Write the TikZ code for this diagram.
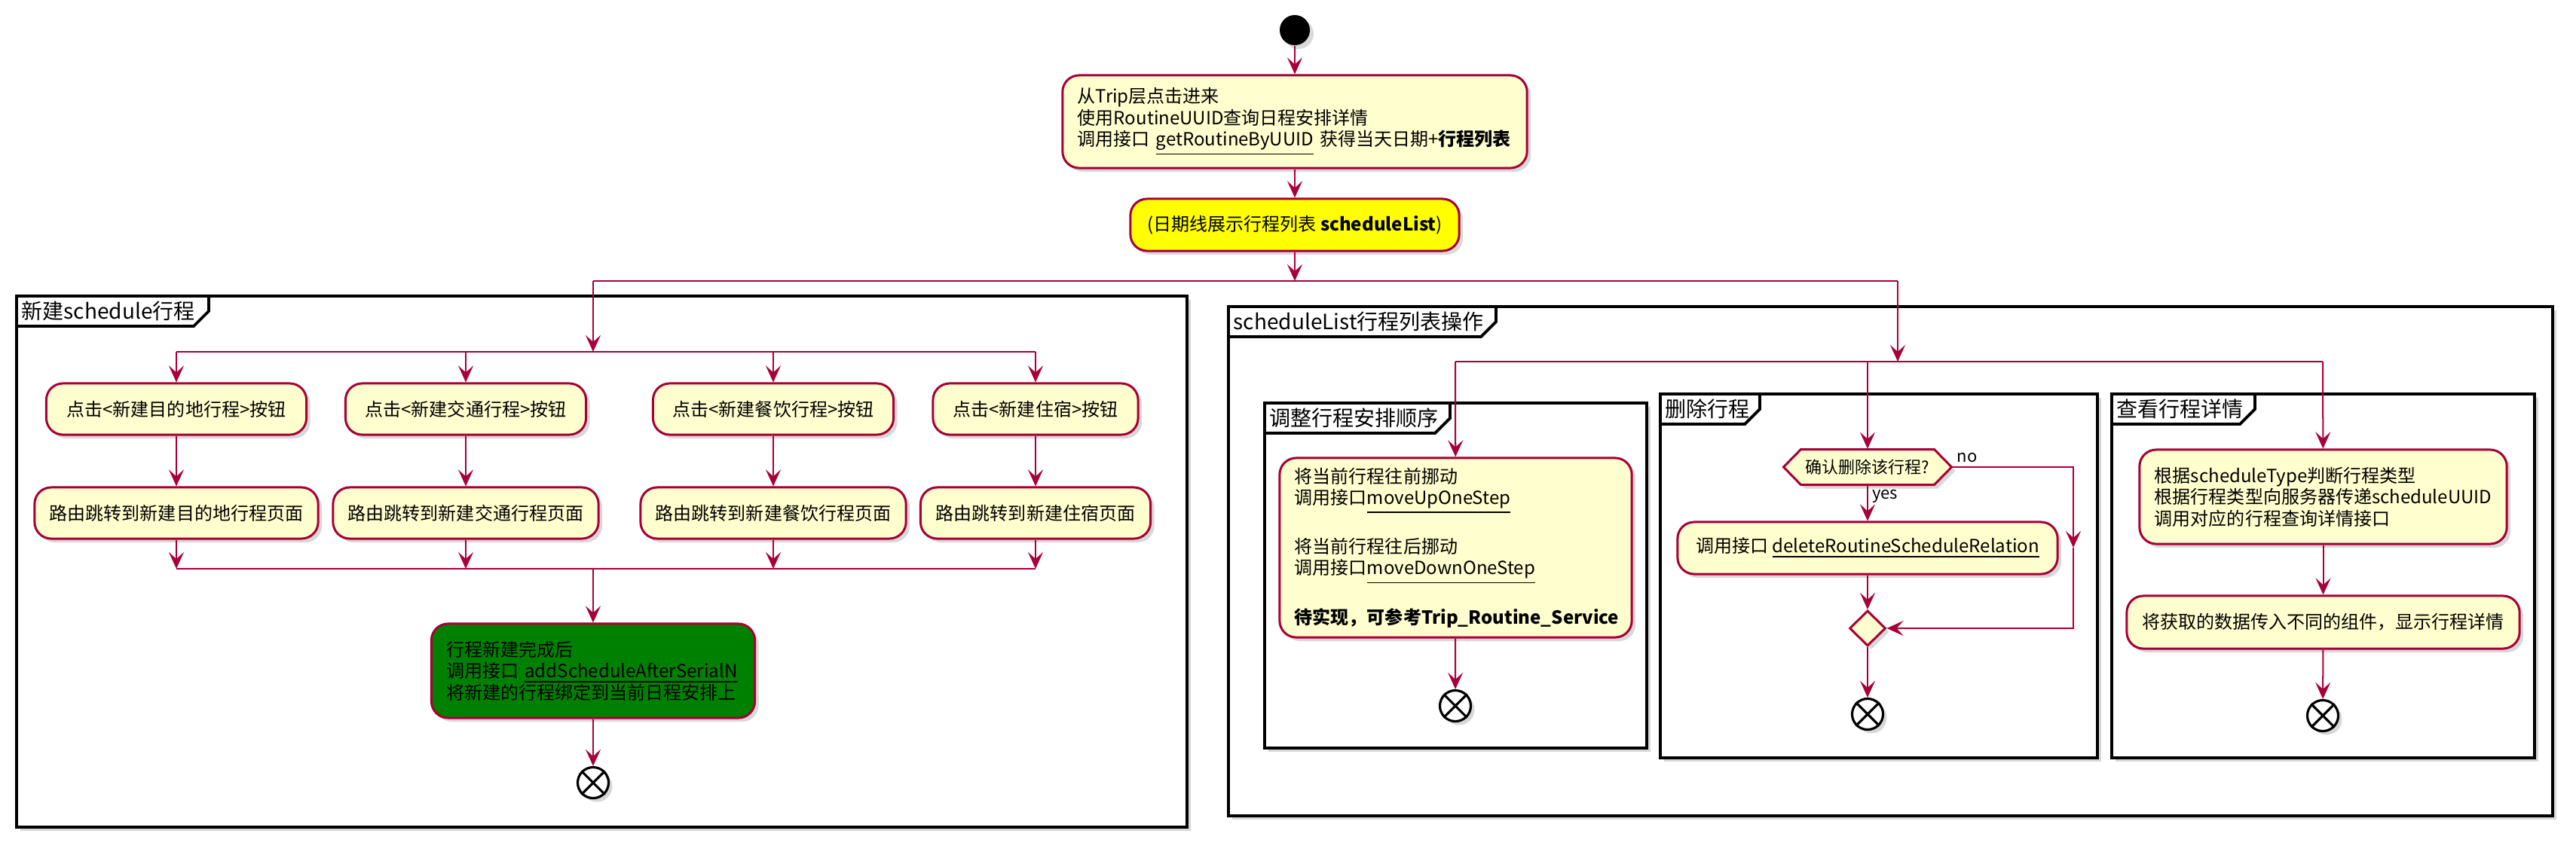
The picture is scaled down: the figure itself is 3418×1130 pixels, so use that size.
\documentclass[tikz,border=0pt]{standalone}
\usepackage{fontspec}
\setmainfont{Noto Sans CJK SC}
\usetikzlibrary{arrows.meta, shapes.geometric, shadows, calc}
\definecolor{plfill}{HTML}{FEFECE}
\definecolor{plborder}{HTML}{A80036}
\definecolor{plgreen}{HTML}{008000}
\definecolor{plyellow}{HTML}{FFFF00}

\begin{document}
\begin{tikzpicture}[
    x=0.01cm, y=-0.01cm, % 1 Einheit = 1 Pixel der Vorlage
    >={Stealth[length=6.3pt, width=5.7pt, inset=2.6pt]},
    font={\fontsize{6.83}{8.1}\selectfont},
    shade/.style={drop shadow={opacity=0.3, shadow xshift=0.05cm, shadow yshift=-0.05cm}},
    act/.style={draw=plborder, fill=plfill, line width=0.85pt, rounded corners=0.22cm, inner xsep=0.2cm, inner ysep=0pt, minimum height=0.68cm, shade},
    dec/.style={draw=plborder, fill=plfill, line width=0.85pt, shade},
    flow/.style={->, draw=plborder, line width=0.57pt},
    bar/.style={draw=plborder, line width=0.8pt},
    frm/.style={draw=black, fill=white, line width=1.1pt, shade},
    frmline/.style={draw=black, line width=1.1pt},
    ttl/.style={font={\fontsize{7.97}{9}\selectfont}, anchor=west, inner sep=0pt},
    lbl/.style={font={\fontsize{6.26}{7.5}\selectfont}, inner sep=1.5pt},
    startn/.style={circle, fill=black, minimum size=0.4cm, inner sep=0pt, shade},
    endn/.style={circle, draw=black, fill=white, line width=0.9pt, minimum size=0.41cm, inner sep=0pt, shade}
]
\useasboundingbox (0,0) rectangle (3418,1130);

% 1. Rahmen (Partitionen) mit Reiter
\foreach \xa/\ya/\xb/\yb/\xt/\ttext in {
    22/393/1575/1098/277/新建schedule行程,
    1630/407/3387/1083/1985/scheduleList行程列表操作,
    1678/535/2185/993/1924/调整行程安排顺序,
    2203/523/2783/1006/2335/删除行程,
    2802/523/3363/1006/2992/查看行程详情} {
    \draw[frm] (\xa,\ya) rectangle (\xb,\yb);
    \draw[frmline] (\xa,\ya+40) -- (\xt-20,\ya+40) -- (\xt,\ya+20) -- (\xt,\ya);
    \node[ttl] (ft\xa) at (\xa+6,\ya+20) {\ttext};
}

% 2. Start und Einstieg
\node[startn] (start) at (1718,40) {};
\node[act, text width=5.76cm, minimum height=1.23cm, align=left] (intro) at (1718,161.5)
    {从Trip层点击进来\\使用RoutineUUID查询日程安排详情\\调用接口 \underline{getRoutineByUUID} 获得当天日期+\textbf{行程列表}};
\node[act, fill=plyellow, minimum width=4.36cm, minimum height=0.69cm] (daylist) at (1718,298.5)
    {(日期线展示行程列表 \textbf{scheduleList})};

% --- Linker Rahmen: neuen Termin anlegen ---
\node[act, minimum width=3.45cm] (btn_dest) at (234,543) {点击<新建目的地行程>按钮};
\node[act, minimum width=3.19cm] (btn_traf) at (618,543) {点击<新建交通行程>按钮};
\node[act, minimum width=3.19cm] (btn_food) at (1026,543) {点击<新建餐饮行程>按钮};
\node[act, minimum width=2.72cm] (btn_stay) at (1374,543) {点击<新建住宿>按钮};

\node[act, minimum width=3.76cm] (go_dest) at (234,681) {路由跳转到新建目的地行程页面};
\node[act, minimum width=3.51cm] (go_traf) at (618,681) {路由跳转到新建交通行程页面};
\node[act, minimum width=3.49cm] (go_food) at (1026,681) {路由跳转到新建餐饮行程页面};
\node[act, minimum width=3.05cm] (go_stay) at (1374,681) {路由跳转到新建住宿页面};

\node[act, fill=plgreen, text width=3.89cm, minimum height=1.25cm, align=left] (bind) at (787,890.5)
    {行程新建完成后\\调用接口 \underline{addScheduleAfterSerialN}\\将新建的行程绑定到当前日程安排上};
\node[endn] (end_new) at (787,1039) {};

% --- Rechter Rahmen: Liste bearbeiten ---
\node[act, text width=4.27cm, minimum height=2.38cm, align=left] (move) at (1931.5,727)
    {将当前行程往前挪动\\调用接口\underline{moveUpOneStep}\\[8.1pt]将当前行程往后挪动\\调用接口\underline{moveDownOneStep}\\[8.1pt]\textbf{待实现，可参考Trip\_Routine\_Service}};
\node[endn] (end_move) at (1931,937) {};

% Entscheidung (Sechseck)
\coordinate (confirm_c) at (2478,620);
\draw[dec] ($(confirm_c)+(-111.5,0)$) -- ++(23,-23.5) -- ++(177,0) -- ++(23,23.5)
    -- ++(-23,23.5) -- ++(-177,0) -- cycle;
\node[inner sep=0pt, minimum width=2.23cm, minimum height=0.47cm, font={\fontsize{6.26}{7.5}\selectfont}] (confirm) at (confirm_c) {确认删除该行程?};

\node[act, minimum width=5.04cm, minimum height=0.69cm] (del) at (2478,727.5)
    {调用接口 \underline{deleteRoutineScheduleRelation}};
\node[dec, diamond, minimum width=0.48cm, minimum height=0.47cm, inner sep=0pt] (merge) at (2478,834) {};
\node[endn] (end_del) at (2478,948) {};

\node[act, text width=4.47cm, minimum height=1.25cm, align=left] (query) at (3082.5,659.5)
    {根据scheduleType判断行程类型\\根据行程类型向服务器传递scheduleUUID\\调用对应的行程查询详情接口};
\node[act, minimum width=5.21cm, minimum height=0.7cm] (show) at (3082.5,826)
    {将获取的数据传入不同的组件，显示行程详情};
\node[endn] (end_show) at (3082,950) {};

% End-Kreuze
\foreach \e in {end_new, end_move, end_del, end_show}
    \draw[line width=0.9pt] (\e.north east) -- (\e.south west) (\e.north west) -- (\e.south east);

% 3. Verbindungen
\coordinate (split_top) at (1718,373);
\coordinate (top_l) at (787,373);
\coordinate (top_r) at (2518,373);
\coordinate (new_split_l) at (234,467);
\coordinate (new_split_r) at (1374,467);
\coordinate (new_join_l) at (234,755);
\coordinate (new_join_r) at (1374,755);
\coordinate (list_split_l) at (1931,480);
\coordinate (list_split_r) at (3082,480);
\coordinate (no_mid) at (2751,727);

\draw[flow] (start) -- (intro);
\draw[flow] (intro) -- (daylist);
\draw[flow] (daylist) -- (split_top);
\draw[bar] (top_l) -- (top_r);

\draw[flow] (top_l) -- (top_l |- new_split_l);
\draw[bar] (new_split_l) -- (new_split_r);
\draw[bar] (new_join_l) -- (new_join_r);
\foreach \n in {dest, traf, food, stay} {
    \draw[flow] (btn_\n.north |- new_split_l) -- (btn_\n);
    \draw[flow] (btn_\n) -- (go_\n);
    \draw[flow] (go_\n) -- (go_\n.south |- new_join_l);
}
\draw[flow] (bind.north |- new_join_l) -- (bind);
\draw[flow] (bind) -- (end_new);

\draw[flow] (top_r) -- (top_r |- list_split_l);
\draw[bar] (list_split_l) -- (list_split_r);
\draw[flow] (list_split_l) -- (move);
\draw[flow] (move) -- (end_move);

\draw[flow] (confirm.north |- list_split_l) -- (confirm);
\draw[flow] (confirm) -- node[lbl, anchor=north west, pos=0] (lbl_yes) {yes} (del);
\draw[flow] (confirm.east) -| node[lbl, anchor=south west, pos=0] (lbl_no) {no} (no_mid);
\draw[flow] (no_mid) |- (merge.east);
\draw[flow] (del) -- (merge);
\draw[flow] (merge) -- (end_del);

\draw[flow] (list_split_r) -- (query);
\draw[flow] (query) -- (show);
\draw[flow] (show) -- (end_show);

\end{tikzpicture}
\end{document}
